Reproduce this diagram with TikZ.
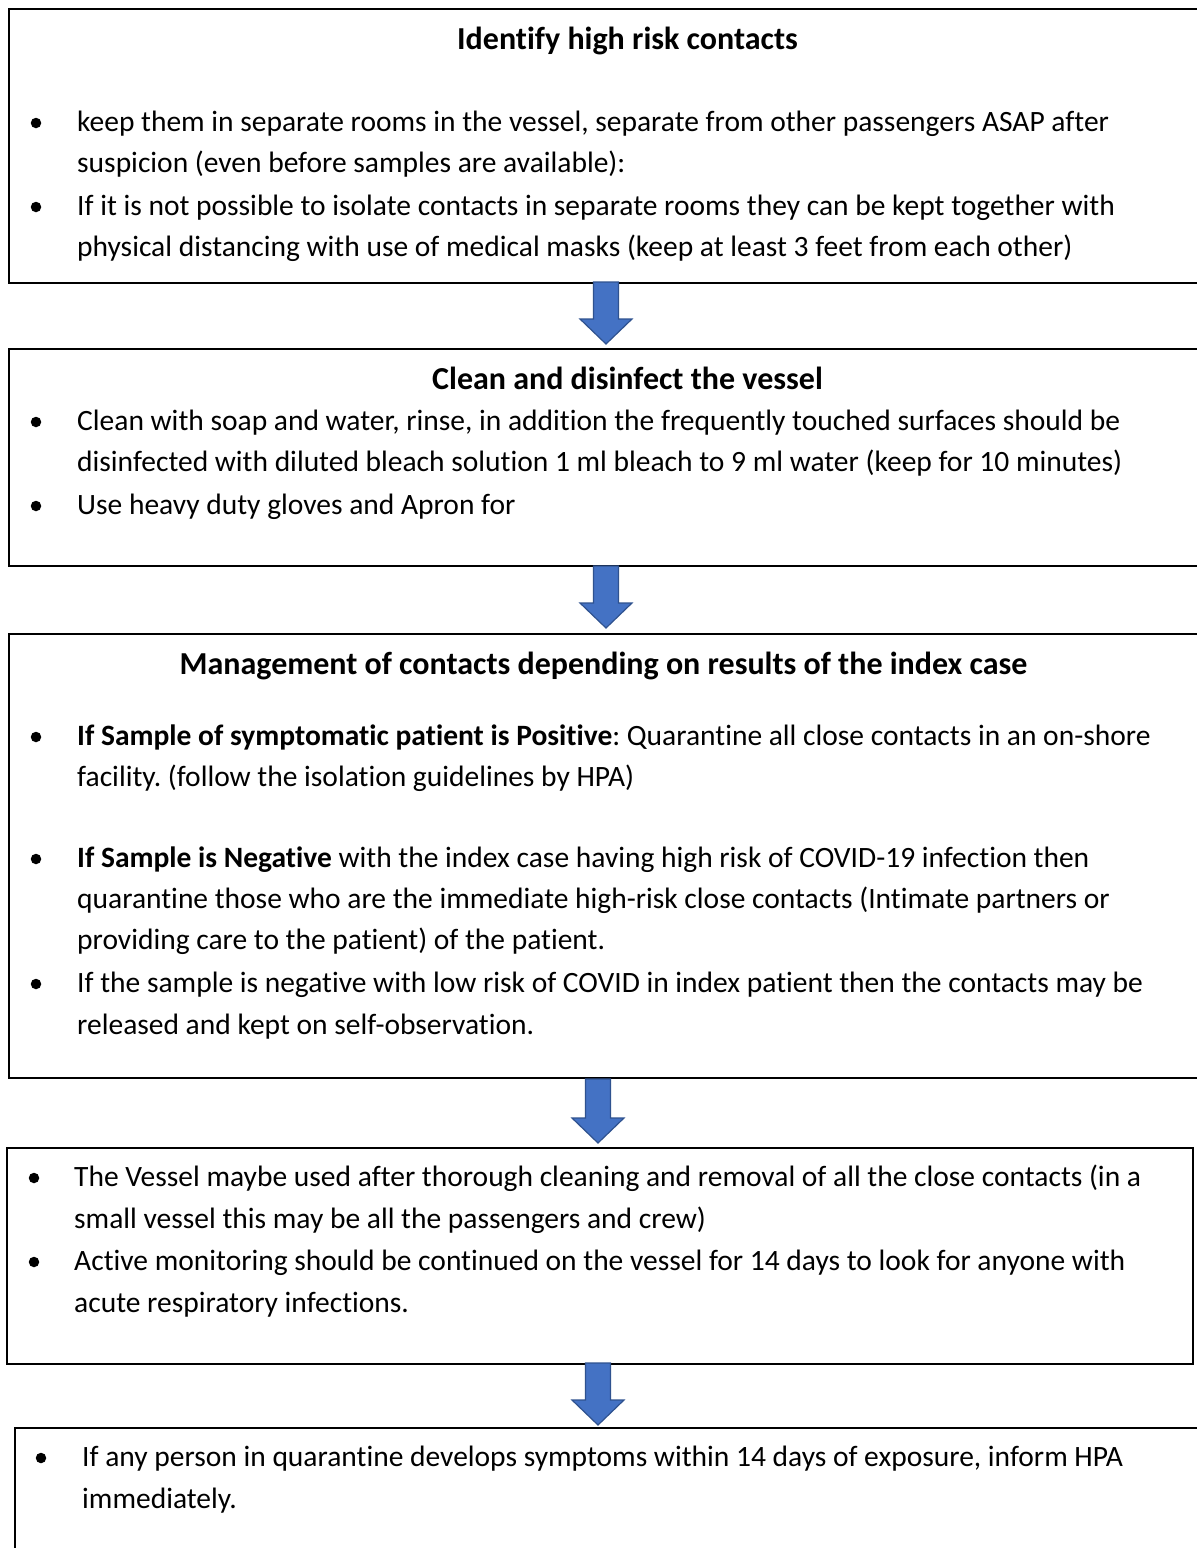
\documentclass[tikz,border=0pt]{standalone}
\usepackage{fontspec}
\setmainfont{Carlito}[Ligatures=NoCommon]
\frenchspacing
\usetikzlibrary{calc}
\definecolor{arrowfill}{HTML}{4472C4}
\definecolor{arrowedge}{HTML}{2F528F}
\tikzset{
  stepbox/.style={draw=black, line width=1.6pt, rectangle, inner sep=0pt, anchor=north west},
  ttl/.style={font=\fontsize{32}{38}\selectfont\bfseries, inner sep=0pt, anchor=base},
  txt/.style={inner sep=0pt, anchor=base west},
  dot/.style={circle, fill=black, inner sep=0pt, minimum size=10.5pt},
  flowarrow/.style={fill=arrowfill, draw=arrowedge, line width=1.2pt, line join=miter}
}
% block arrow from the bottom of one box to just above the next
\newcommand\blockarrow[2]{%
  \draw[flowarrow] ($(#1)+(-12.5,0)$) -- ($(#2)+(-12.5,-25)$) -- ($(#2)+(-26,-25)$)
    -- (#2) -- ($(#2)+(26,-25)$) -- ($(#2)+(12.5,-25)$) -- ($(#1)+(12.5,0)$) -- cycle;}
\begin{document}
\begin{tikzpicture}[x=1pt, y=-1pt]
\fontsize{29.5}{35}\selectfont
\useasboundingbox (0,0) rectangle (1197,1548);
\fill[white] (0,0) rectangle (1197,1548);

% boxes
\node[stepbox, minimum width=1200pt, minimum height=274pt] (b1) at (8,8) {};
\node[stepbox, minimum width=1200pt, minimum height=217pt] (b2) at (8,348) {};
\node[stepbox, minimum width=1200pt, minimum height=444pt] (b3) at (8,633) {};
\node[stepbox, minimum width=1186pt, minimum height=216pt] (b4) at (6,1147) {};
\node[stepbox, minimum width=1200pt, minimum height=140pt] (b5) at (14,1427) {};

% arrows between the boxes
\coordinate (a1s) at (606,282);  \coordinate (a1e) at (606,344);
\coordinate (a2s) at (606,566);  \coordinate (a2e) at (606,628);
\coordinate (a3s) at (598,1079); \coordinate (a3e) at (598,1143);
\coordinate (a4s) at (598,1363); \coordinate (a4e) at (598,1425);
\blockarrow{a1s}{a1e}
\blockarrow{a2s}{a2e}
\blockarrow{a3s}{a3e}
\blockarrow{a4s}{a4e}

% box 1
\node[ttl] (t1) at (627.5,49) {Identify high risk contacts};
\node[dot] (d11) at (36,123) {};
\node[txt] (l11) at (77,131) {keep them in separate rooms in the vessel, separate from other passengers ASAP after};
\node[txt] (l12) at (77,172) {suspicion (even before samples are available):};
\node[dot] (d12) at (36,207) {};
\node[txt] (l13) at (77,215) {If it is not possible to isolate contacts in separate rooms they can be kept together with};
\node[txt] (l14) at (77,256) {physical distancing with use of medical masks (keep at least 3 feet from each other)};

% box 2
\node[ttl] (t2) at (627.5,389) {Clean and disinfect the vessel};
\node[dot] (d21) at (36,422) {};
\node[txt] (l21) at (77,430) {Clean with soap and water, rinse, in addition the frequently touched surfaces should be};
\node[txt] (l22) at (77,471) {disinfected with diluted bleach solution 1 ml bleach to 9 ml water (keep for 10 minutes)};
\node[dot] (d22) at (36,506) {};
\node[txt] (l23) at (77,514) {Use heavy duty gloves and Apron for};

% box 3
\node[ttl] (t3) at (603.5,674) {Management of contacts depending on results of the index case};
\node[dot] (d31) at (36,737) {};
\node[txt] (l31) at (77,745) {\textbf{If Sample of symptomatic patient is Positive}: Quarantine all close contacts in an on-shore};
\node[txt] (l32) at (77,786) {facility. (follow the isolation guidelines by HPA)};
\node[dot] (d32) at (36,859) {};
\node[txt] (l33) at (77,867) {\textbf{If Sample is Negative} with the index case having high risk of COVID-19 infection then};
\node[txt] (l34) at (77,908) {quarantine those who are the immediate high-risk close contacts (Intimate partners or};
\node[txt] (l35) at (77,949) {providing care to the patient) of the patient.};
\node[dot] (d33) at (36,984) {};
\node[txt] (l36) at (77,992) {If the sample is negative with low risk of COVID in index patient then the contacts may be};
\node[txt] (l37) at (77,1034) {released and kept on self-observation.};

% box 4
\node[dot] (d41) at (34,1178) {};
\node[txt] (l41) at (74,1186) {The Vessel maybe used after thorough cleaning and removal of all the close contacts (in a};
\node[txt] (l42) at (74,1228) {small vessel this may be all the passengers and crew)};
\node[dot] (d42) at (34,1262) {};
\node[txt] (l43) at (74,1270) {Active monitoring should be continued on the vessel for 14 days to look for anyone with};
\node[txt] (l44) at (74,1312) {acute respiratory infections.};

% box 5
\node[dot] (d51) at (41,1458) {};
\node[txt] (l51) at (82,1466) {If any person in quarantine develops symptoms within 14 days of exposure, inform HPA};
\node[txt] (l52) at (82,1508) {immediately.};
\end{tikzpicture}
\end{document}
